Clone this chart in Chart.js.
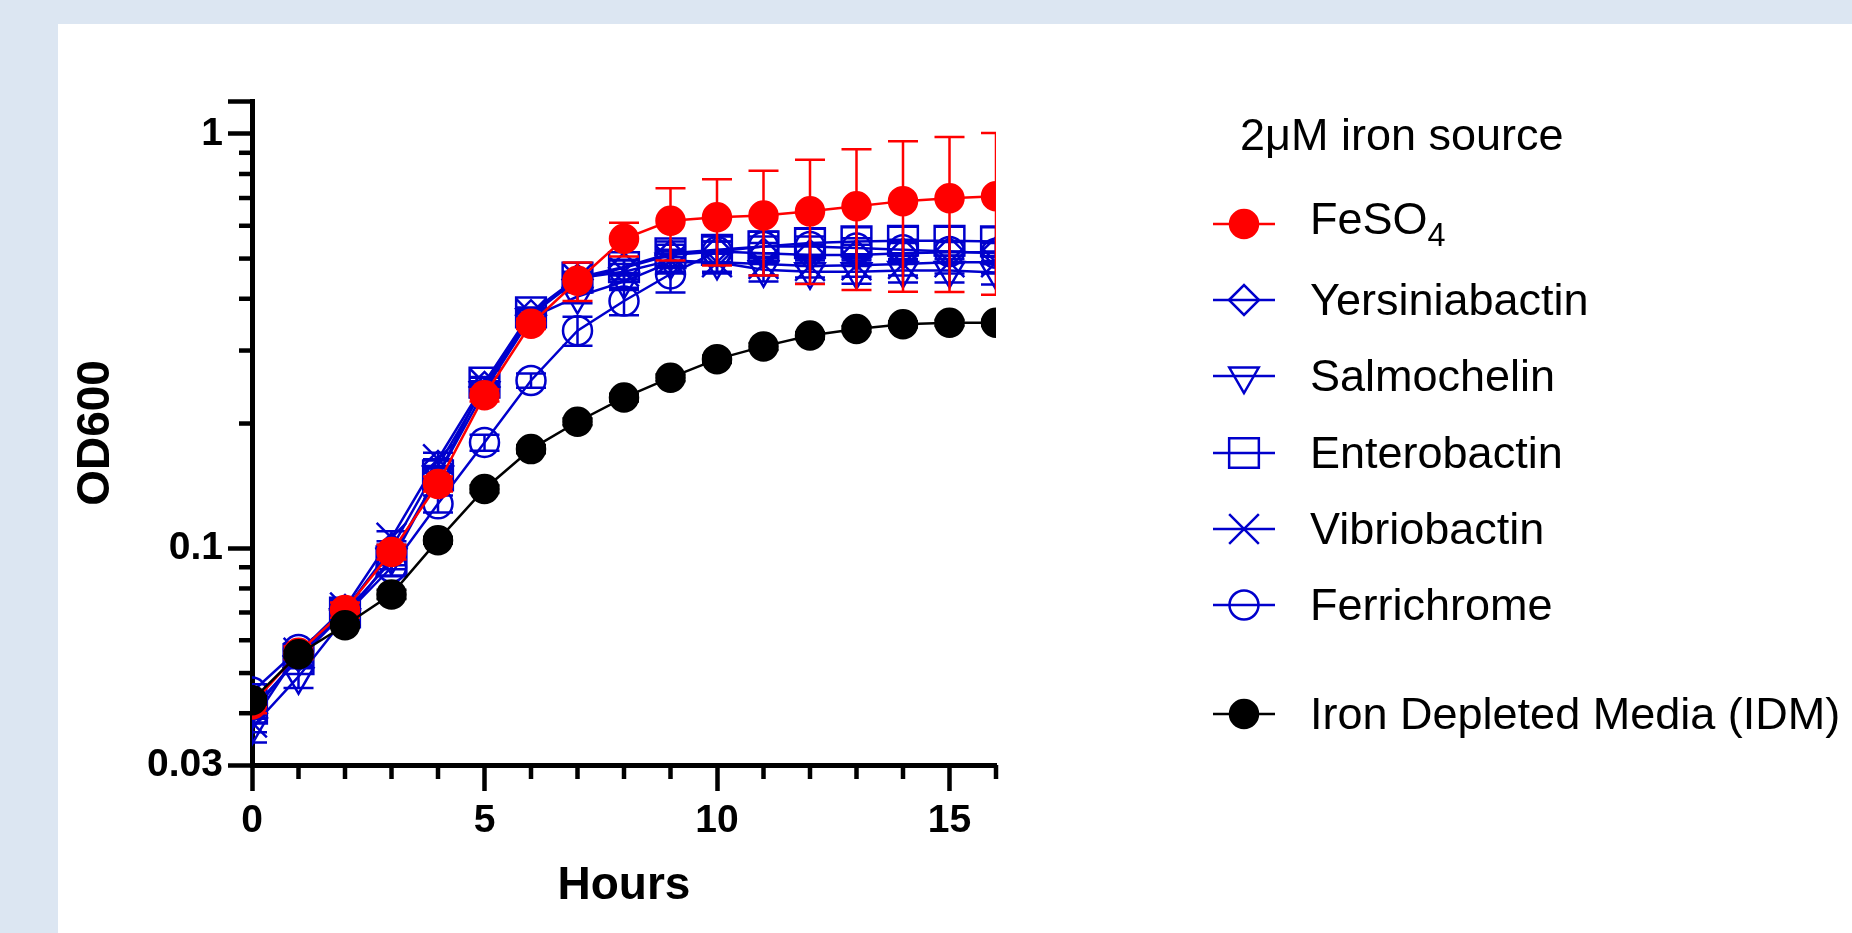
<!DOCTYPE html>
<html>
<head>
<meta charset="utf-8">
<script src="https://cdn.jsdelivr.net/npm/chart.js"></script>
<style>
  html, body { margin: 0; padding: 0; }
  body { width: 1852px; height: 933px; background: #dce6f2; position: relative; overflow: hidden;
         font-family: 'Liberation Sans', Arial, sans-serif; }
  #panel { position: absolute; left: 58px; top: 24px; right: 0; bottom: 0; background: #fff; }
  #chart { position: absolute; left: 0; top: 0; }
  #legend { position: absolute; left: 1213px; top: 0; color: #000; font-size: 45px; }
  #legend .ttl { position: absolute; left: 27px; top: 108px; line-height: 54px; white-space: nowrap; }
  #legend .rows { position: absolute; left: 0; top: 185.5px; }
  #legend .row { display: flex; align-items: center; height: 76.3px; white-space: nowrap; }
  #legend .row.gap { margin-top: 32.7px; }
  #legend .row span { margin-left: 35px; line-height: 54px; position: relative; }
  #legend .row span.sub { top: -5px; }
  #legend sub { font-size: 0.72em; vertical-align: -12px; line-height: 0; }
</style>
</head>
<body>
<div id="panel"></div>
<canvas id="chart" width="1852" height="933"></canvas>
<div id="legend">
  <div class="ttl">2μM iron source</div>
  <div class="rows" id="rows"></div>
</div>
<script>
// time points (hours)
var hours = [0, 1, 2, 3, 4, 5, 6, 7, 8, 9, 10, 11, 12, 13, 14, 15, 16];

var seriesNames = ['FeSO4', 'Yersiniabactin', 'Salmochelin', 'Enterobactin',
                   'Vibriobactin', 'Ferrichrome', 'Iron Depleted Media (IDM)'];

// OD600 means
var feso4 = [0.042, 0.056, 0.071, 0.098, 0.143, 0.234, 0.348, 0.442, 0.558, 0.617, 0.629, 0.635, 0.650, 0.669, 0.688, 0.699, 0.707];
var yersiniabactin = [0.040, 0.055, 0.071, 0.100, 0.158, 0.245, 0.365, 0.445, 0.475, 0.510, 0.520, 0.515, 0.510, 0.510, 0.515, 0.518, 0.518];
var salmochelin = [0.037, 0.049, 0.068, 0.095, 0.150, 0.240, 0.360, 0.405, 0.440, 0.490, 0.490, 0.470, 0.465, 0.465, 0.468, 0.468, 0.463];
var enterobactin = [0.041, 0.054, 0.070, 0.093, 0.150, 0.251, 0.371, 0.450, 0.477, 0.515, 0.525, 0.535, 0.545, 0.550, 0.552, 0.552, 0.550];
var vibriobactin = [0.038, 0.056, 0.072, 0.106, 0.164, 0.250, 0.368, 0.448, 0.465, 0.495, 0.490, 0.485, 0.480, 0.482, 0.485, 0.490, 0.490];
var ferrichrome = [0.045, 0.057, 0.069, 0.090, 0.128, 0.180, 0.254, 0.335, 0.395, 0.459, 0.520, 0.535, 0.535, 0.530, 0.525, 0.520, 0.515];
var idm = [0.043, 0.0555, 0.0652, 0.0774, 0.1046, 0.139, 0.1735, 0.202, 0.231, 0.258, 0.286, 0.307, 0.326, 0.338, 0.347, 0.350, 0.350];

// standard deviations (error bars)
var feso4Sd = [0.002, 0.002, 0.003, 0.004, 0.006, 0.008, 0.010, 0.047, 0.052, 0.122, 0.148, 0.180, 0.216, 0.249, 0.272, 0.284, 0.298];
var yersiniabactinSd = [0.002, 0.002, 0.003, 0.004, 0.006, 0.008, 0.010, 0.015, 0.020, 0.030, 0.030, 0.030, 0.030, 0.030, 0.030, 0.030, 0.030];
var salmochelinSd = [0.003, 0.003, 0.003, 0.004, 0.006, 0.008, 0.010, 0.015, 0.020, 0.030, 0.025, 0.030, 0.030, 0.030, 0.030, 0.030, 0.030];
var enterobactinSd = [0.002, 0.002, 0.003, 0.004, 0.006, 0.008, 0.010, 0.015, 0.020, 0.035, 0.040, 0.045, 0.045, 0.045, 0.045, 0.045, 0.045];
var vibriobactinSd = [0.002, 0.002, 0.003, 0.004, 0.006, 0.008, 0.010, 0.015, 0.020, 0.030, 0.030, 0.030, 0.030, 0.030, 0.030, 0.030, 0.030];
var ferrichromeSd = [0.002, 0.002, 0.003, 0.004, 0.006, 0.008, 0.010, 0.027, 0.030, 0.045, 0.030, 0.030, 0.030, 0.030, 0.030, 0.030, 0.030];
var idmSd = [0.001, 0.001, 0.001, 0.002, 0.002, 0.003, 0.004, 0.004, 0.005, 0.005, 0.006, 0.006, 0.006, 0.006, 0.006, 0.006, 0.006];

// axis ticks
var yTickMajor = [0.03, 0.1, 1, 1.2];
var yTickLabels = ['0.03', '0.1', '1', ''];
var yTickMinor = [0.04, 0.05, 0.06, 0.07, 0.08, 0.09, 0.2, 0.3, 0.4, 0.5, 0.6, 0.7, 0.8, 0.9];
var xTickMajor = [0, 5, 10, 15];
var xTickLabels = ['0', '5', '10', '15'];
var xTickMinor = [1, 2, 3, 4, 6, 7, 8, 9, 11, 12, 13, 14, 16];

var RED = '#ff0000', BLUE = '#0000cc', BLACK = '#000000';
var FONT = "'Liberation Sans', Arial, sans-serif";

function pts(values) {
    return hours.map(function(h, i) { return {x: h, y: values[i]}; });
}

function series(i, values, errors, color, style, radius, filled, rotation, order) {
    return {
        label: seriesNames[i],
        data: pts(values),
        errors: errors,
        borderColor: color,
        borderWidth: 2.5,
        pointStyle: style,
        pointRadius: radius,
        pointRotation: rotation,
        pointBorderWidth: 2.5,
        pointBorderColor: color,
        pointBackgroundColor: filled ? color : 'rgba(0,0,0,0)',
        tension: 0,
        clip: 0,
        order: order
    };
}

var datasets = [
    series(0, feso4, feso4Sd, RED, 'circle', 14, true, 0, 1),
    series(1, yersiniabactin, yersiniabactinSd, BLUE, 'rectRot', 15, false, 0, 2),
    series(2, salmochelin, salmochelinSd, BLUE, 'triangle', 17, false, 180, 2),
    series(3, enterobactin, enterobactinSd, BLUE, 'rect', 21, false, 0, 2),
    series(4, vibriobactin, vibriobactinSd, BLUE, 'crossRot', 21, false, 0, 2),
    series(5, ferrichrome, ferrichromeSd, BLUE, 'circle', 14.5, false, 0, 2),
    series(6, idm, idmSd, BLACK, 'circle', 14, true, 0, 0)
];

var errorBars = {
    id: 'errorBars',
    beforeDatasetDraw: function(chart, args) {
        var ds = chart.data.datasets[args.index];
        if (!ds.errors) return;
        var ctx = chart.ctx, area = chart.chartArea, y = chart.scales.y;
        ctx.save();
        ctx.beginPath();
        ctx.rect(area.left, area.top, area.right - area.left, area.bottom - area.top);
        ctx.clip();
        ctx.strokeStyle = ds.borderColor;
        ctx.lineWidth = 2.5;
        args.meta.data.forEach(function(pt, i) {
            var v = ds.data[i].y, e = ds.errors[i];
            var top = y.getPixelForValue(v + e), bot = y.getPixelForValue(v - e);
            ctx.beginPath();
            ctx.moveTo(pt.x, top); ctx.lineTo(pt.x, bot);
            ctx.moveTo(pt.x - 15, top); ctx.lineTo(pt.x + 15, top);
            ctx.moveTo(pt.x - 15, bot); ctx.lineTo(pt.x + 15, bot);
            ctx.stroke();
        });
        ctx.restore();
    }
};

var minorTicks = {
    id: 'minorTicks',
    afterDraw: function(chart) {
        var ctx = chart.ctx, area = chart.chartArea;
        var x = chart.scales.x, y = chart.scales.y;
        ctx.save();
        ctx.strokeStyle = BLACK;
        ctx.lineWidth = 4.5;
        yTickMinor.forEach(function(v) {
            var p = y.getPixelForValue(v);
            ctx.beginPath(); ctx.moveTo(area.left, p); ctx.lineTo(area.left - 13, p); ctx.stroke();
        });
        xTickMinor.forEach(function(v) {
            var p = x.getPixelForValue(v);
            ctx.beginPath(); ctx.moveTo(p, area.bottom); ctx.lineTo(p, area.bottom + 14); ctx.stroke();
        });
        ctx.restore();
    }
};

var chart = new Chart(document.getElementById('chart'), {
    type: 'line',
    data: { datasets: datasets },
    options: {
        responsive: false,
        animation: false,
        events: [],
        layout: { padding: { left: 0, top: 101, right: 856, bottom: 0 } },
        plugins: { legend: { display: false }, tooltip: { enabled: false } },
        scales: {
            x: {
                type: 'linear',
                min: 0,
                max: 16,
                afterBuildTicks: function(scale) {
                    scale.ticks = xTickMajor.map(function(v) { return {value: v}; });
                },
                afterFit: function(scale) { scale.height = 168; },
                grid: { display: true, drawOnChartArea: false, drawTicks: true,
                        tickLength: 26, tickWidth: 4.5, tickColor: BLACK },
                border: { display: true, color: BLACK, width: 5 },
                ticks: {
                    autoSkip: false,
                    maxRotation: 0,
                    padding: 7,
                    color: BLACK,
                    font: { family: FONT, size: 39, weight: 'bold' },
                    callback: function(v) {
                        var k = xTickMajor.indexOf(v);
                        return k < 0 ? '' : xTickLabels[k];
                    }
                },
                title: {
                    display: true,
                    text: 'Hours',
                    color: BLACK,
                    font: { family: FONT, size: 46, weight: 'bold' },
                    padding: { top: 0, bottom: 18.7 }
                }
            },
            y: {
                type: 'logarithmic',
                min: 0.03,
                max: 1.2,
                afterBuildTicks: function(scale) {
                    scale.ticks = yTickMajor.map(function(v) { return {value: v}; });
                },
                afterFit: function(scale) { scale.width = 252; },
                grid: { display: true, drawOnChartArea: false, drawTicks: true,
                        tickLength: 24, tickWidth: 4.5, tickColor: BLACK },
                border: { display: true, color: BLACK, width: 5 },
                ticks: {
                    autoSkip: false,
                    padding: 5,
                    color: BLACK,
                    font: { family: FONT, size: 39, weight: 'bold' },
                    callback: function(v) {
                        var k = yTickMajor.indexOf(v);
                        return k < 0 ? '' : yTickLabels[k];
                    }
                },
                title: {
                    display: true,
                    text: 'OD600',
                    color: BLACK,
                    font: { family: FONT, size: 46, weight: 'bold' },
                    padding: { top: 68.4, bottom: 0 }
                }
            }
        }
    },
    plugins: [errorBars, minorTicks]
});

// HTML legend built from the datasets, symbols drawn with Chart.js' point routine
var rows = document.getElementById('rows');
chart.data.datasets.forEach(function(ds, i) {
    var row = document.createElement('div');
    row.className = 'row' + (i === 6 ? ' gap' : '');
    var c = document.createElement('canvas');
    c.width = 62; c.height = 44;
    var ctx = c.getContext('2d');
    ctx.strokeStyle = ds.borderColor;
    ctx.lineWidth = 2.5;
    ctx.beginPath(); ctx.moveTo(0, 22); ctx.lineTo(62, 22); ctx.stroke();
    ctx.fillStyle = ds.pointBackgroundColor;
    ctx.strokeStyle = ds.pointBorderColor;
    ctx.lineWidth = ds.pointBorderWidth;
    Chart.helpers.drawPoint(ctx, {
        pointStyle: ds.pointStyle,
        rotation: ds.pointRotation,
        radius: ds.pointRadius,
        borderWidth: ds.pointBorderWidth
    }, 31, 22);
    var span = document.createElement('span');
    if (ds.label.indexOf('SO4') >= 0) {
        span.className = 'sub';
        span.innerHTML = ds.label.replace('SO4', 'SO<sub>4</sub>');
    } else {
        span.textContent = ds.label;
    }
    row.appendChild(c);
    row.appendChild(span);
    rows.appendChild(row);
});
</script>
</body>
</html>
